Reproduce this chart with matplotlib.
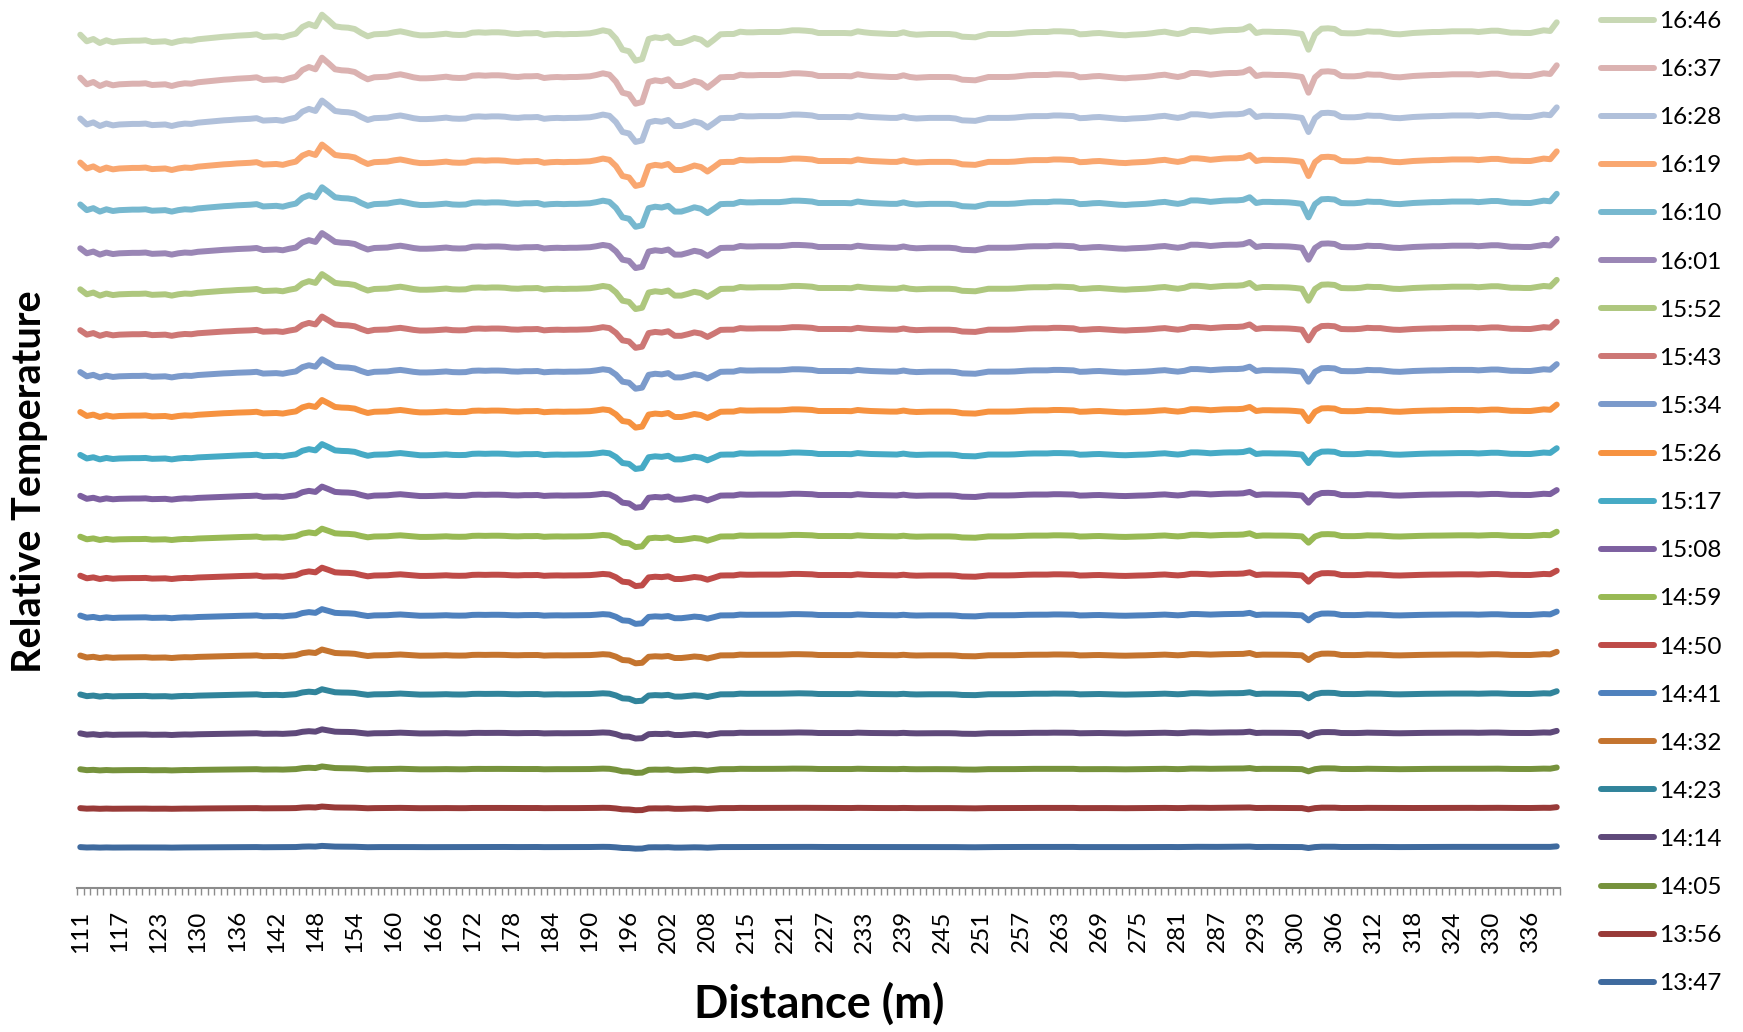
import matplotlib
matplotlib.use("Agg")
import matplotlib.pyplot as plt
import numpy as np

# ===== DATA =====
# timestamps of each trace, bottom (first) to top (last)
times = ["13:47", "13:56", "14:05", "14:14", "14:23", "14:32", "14:41",
         "14:50", "14:59", "15:08", "15:17", "15:26", "15:34", "15:43",
         "15:52", "16:01", "16:10", "16:19", "16:28", "16:37", "16:46"]

# stacked level of each trace (relative temperature, arbitrary units)
levels = [41, 80, 119, 155, 194, 233, 273, 313, 352, 393, 434,
          477, 517, 559, 600, 641, 685, 727, 771, 812, 855]

# how strongly each trace shows the along-cable anomalies (16:46 = 1)
gain = [0.06, 0.08, 0.14, 0.20, 0.26, 0.30, 0.32, 0.40, 0.40, 0.46, 0.54,
        0.60, 0.64, 0.68, 0.76, 0.76, 0.86, 0.90, 0.90, 1.00, 1.00]

# anomaly profile along the cable, read from the 16:46 trace
profile = [
    -1.7, -8.3, -6.0, -10.0, -7.3, -9.3, -8.3, -8.0, -7.7, -7.7,
    -7.3, -9.0, -8.7, -8.3, -10.0, -8.3, -7.3, -7.7, -6.3, -5.7,
    -5.0, -4.3, -3.7, -3.3, -2.7, -2.3, -2.0, -1.3, -4.0, -3.7,
    -3.3, -4.3, -2.3, -0.7, 6.0, 9.0, 6.7, 18.3, 12.7, 6.7,
    5.7, 5.3, 4.0, 0.0, -3.3, -1.3, -1.0, -0.7, 0.7, 1.7,
    0.3, -1.3, -2.3, -2.3, -2.0, -1.3, -0.7, -1.7, -2.0, -1.7,
    0.3, 0.7, 0.3, 0.7, 0.7, 0.3, -0.7, -1.0, -0.3, -0.3,
    0.0, -2.0, -1.3, -1.0, -1.3, -1.0, -1.0, -0.7, -0.3, 1.0,
    2.7, 1.3, -5.7, -16.7, -18.3, -27.7, -26.0, -6.0, -4.3, -5.3,
    -3.3, -10.0, -10.0, -7.7, -5.0, -6.7, -11.7, -6.7, -1.3, -1.0,
    -1.0, 1.3, 0.7, 0.7, 1.0, 1.0, 1.0, 1.0, 1.7, 2.7,
    2.7, 2.3, 1.7, 0.0, 0.0, 0.0, 0.0, 0.0, -0.3, 1.7,
    0.7, 0.0, -0.3, -0.7, -1.0, -1.0, 0.7, -1.0, -1.7, -1.3,
    -1.0, -1.0, -1.0, -1.0, -1.7, -3.7, -4.0, -4.3, -2.7, -1.0,
    -1.0, -1.0, -1.0, -0.7, 0.0, 0.7, 1.0, 1.0, 1.0, 1.7,
    1.7, 1.3, 1.0, -1.3, -1.0, -0.3, 0.0, -0.7, -1.3, -2.0,
    -2.3, -1.7, -1.3, -1.0, -0.3, 0.7, 1.3, 0.0, -1.0, 0.3,
    3.0, 3.0, 2.3, 1.3, 2.0, 2.7, 3.0, 3.0, 3.7, 6.7,
    0.0, 1.3, 1.3, 1.0, 1.0, 0.7, 0.0, -1.0, -16.7, -1.3,
    4.3, 4.7, 4.0, 0.0, -0.3, -0.3, 0.3, 1.7, 1.3, 1.3,
    0.0, -1.0, -1.3, -0.7, 0.0, 0.3, 0.7, 1.0, 1.0, 1.3,
    1.7, 1.7, 1.7, 1.7, 1.0, 1.7, 2.3, 2.3, 1.3, 0.3,
    0.3, 0.0, 0.0, 1.3, 2.7, 2.0, 10.7,
]

# distance labels shown on every 6th sample
dist_labels = [111, 117, 123, 130, 136, 142, 148, 154, 160, 166, 172, 178,
               184, 190, 196, 202, 208, 215, 221, 227, 233, 239, 245, 251,
               257, 263, 269, 275, 281, 287, 293, 300, 306, 312, 318, 324,
               330, 336]

colors = ["#3F6A9E", "#983A38", "#76923C", "#5F497A", "#31849B", "#C4742F",
          "#4F81BD", "#BE4B48", "#98B954", "#7D60A0", "#46AAC5", "#F69240",
          "#7B9ACB", "#CD7775", "#AEC77E", "#9A86B5", "#77B8CF", "#F9A770",
          "#B0C0DA", "#DBB2B1", "#C8D8B4"]

# ===== PLOT =====
plt.rcParams["font.family"] = ["Lato", "DejaVu Sans"]

W, H = 1743, 1032
fig = plt.figure(figsize=(W / 100, H / 100), dpi=100)
ax = fig.add_axes([77 / W, 144 / H, 1483 / W, 888 / H])

prof = np.array(profile)
x = np.arange(len(prof))
lines = []
for t, lev, g, c in zip(times, levels, gain, colors):
    ln, = ax.plot(x, lev + g * prof, color=c, lw=4.3, label=t,
                  solid_capstyle="round", solid_joinstyle="round")
    lines.append(ln)

ax.set_xlim(-0.5, len(prof) - 0.5)
ax.set_ylim(0, 888)

# category axis: small ticks between samples, labels every 6th sample
ax.set_xticks(np.arange(0, len(prof), 6))
ax.set_xticklabels([str(d) for d in dist_labels], rotation=90, fontsize=17.5)
ax.set_xticks(np.arange(-0.5, len(prof), 1), minor=True)
ax.tick_params(axis="x", which="major", length=0, pad=16)
ax.tick_params(axis="x", which="minor", length=5, width=1, color="#8C8C8C")
ax.set_yticks([])
for s in ["top", "right", "left"]:
    ax.spines[s].set_visible(False)
ax.spines["bottom"].set_color("#8C8C8C")
ax.spines["bottom"].set_linewidth(1.5)

fig.text(819 / W, 1 - 1004 / H, "Distance (m)", ha="center", va="center",
         fontsize=32.5, fontweight="bold")
fig.text(30 / W, 1 - 482 / H, "Relative Temperature", ha="center", va="center",
         rotation=90, fontsize=28.5, fontweight="bold")

fig.legend(lines[::-1], times[::-1], loc="upper left",
           bbox_to_anchor=(1601 / W, 1 - 11 / H), frameon=False,
           fontsize=17.5, handlelength=2.2, handletextpad=0.17,
           labelspacing=1.115, borderpad=0, borderaxespad=0)

fig.savefig("out.png", dpi=100)
